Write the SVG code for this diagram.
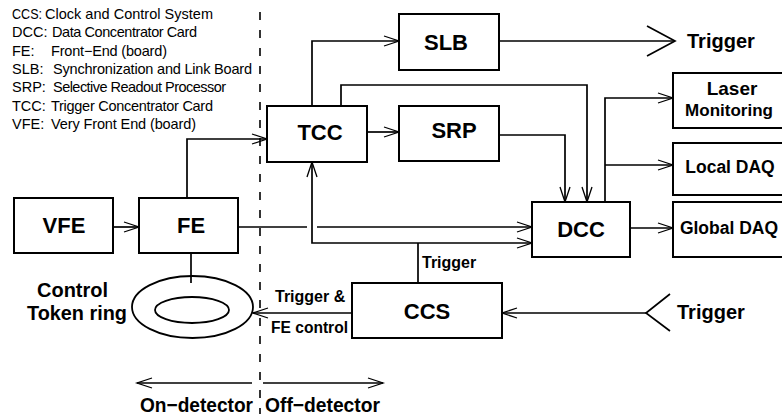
<svg xmlns="http://www.w3.org/2000/svg" width="782" height="418" viewBox="0 0 782 418">
<style>
text{font-family:"Liberation Sans",Arial,Helvetica,sans-serif;fill:#000}
.bx{fill:#fff;stroke:#000;stroke-width:2}
.ln{fill:none;stroke:#000;stroke-width:1.7}
.lg{font-size:14.5px}
.lb{font-weight:bold;font-size:22px;text-anchor:middle}
.sm{font-weight:bold;font-size:16px}
.md{font-weight:bold;font-size:20px}
.dq{font-weight:bold;font-size:17.5px;text-anchor:middle}
</style>
<defs>
<marker id="a" markerUnits="userSpaceOnUse" markerWidth="20" markerHeight="14" refX="15" refY="6" orient="auto-start-reverse" overflow="visible">
<path d="M0,1 L15,6 L0,11" fill="none" stroke="#000" stroke-width="1.3"/>
</marker>
</defs>
<rect width="782" height="418" fill="#fff"/>

<g id="legend">
<text class="lg" x="12" y="19"><tspan textLength="30" lengthAdjust="spacingAndGlyphs">CCS:</tspan><tspan x="45" textLength="168" lengthAdjust="spacing">Clock and Control System</tspan></text>
<text class="lg" x="12" y="37">DCC:<tspan x="52" textLength="145" lengthAdjust="spacing">Data Concentrator Card</tspan></text>
<text class="lg" x="12" y="56">FE:<tspan x="51" textLength="116" lengthAdjust="spacing">Front−End (board)</tspan></text>
<text class="lg" x="12" y="74">SLB:<tspan x="53" textLength="199" lengthAdjust="spacing">Synchronization and Link Board</tspan></text>
<text class="lg" x="12" y="92">SRP:<tspan x="53" textLength="173" lengthAdjust="spacing">Selective Readout Processor</tspan></text>
<text class="lg" x="12" y="111">TCC:<tspan x="51" textLength="162" lengthAdjust="spacing">Trigger Concentrator Card</tspan></text>
<text class="lg" x="12" y="129">VFE:<tspan x="51" textLength="145" lengthAdjust="spacing">Very Front End (board)</tspan></text>
</g>

<g id="divider">
<line x1="260" y1="12" x2="260" y2="414" stroke="#000" stroke-width="1.6" stroke-dasharray="8,10"/>
<text class="md" x="140" y="412" textLength="113" lengthAdjust="spacingAndGlyphs">On−detector</text>
<text class="md" x="265" y="412" textLength="115" lengthAdjust="spacingAndGlyphs">Off−detector</text>
</g>

<g id="connectors">
<path class="ln" d="M113,227 H139" marker-end="url(#a)"/>
<path class="ln" d="M187,198 V139 H267" marker-end="url(#a)"/>
<path class="ln" d="M238,227 H307"/>
<path class="ln" d="M317,227 H532" marker-end="url(#a)"/>
<path class="ln" d="M312,106 V41 H399" marker-end="url(#a)"/>
<path class="ln" d="M341,106 V85 H587 V202" marker-end="url(#a)"/>
<path class="ln" d="M367,132 H399" marker-end="url(#a)"/>
<path class="ln" d="M499,135 H565 V202" marker-end="url(#a)"/>
<path class="ln" d="M312,162 V243 H532" marker-start="url(#a)" marker-end="url(#a)"/>
<path class="ln" d="M418,283 V243"/>
<path class="ln" d="M605,202 V98 H673" marker-end="url(#a)"/>
<path class="ln" d="M605,165 H673" marker-end="url(#a)"/>
<path class="ln" d="M630,228 H673" marker-end="url(#a)"/>
<path class="ln" d="M352,313 H253" marker-end="url(#a)"/>
<path class="ln" d="M646,313 H502" marker-end="url(#a)"/>
<path class="ln" d="M670,294 L646,313 L670,331"/>
<path class="ln" d="M499,41 H675"/>
<path class="ln" d="M647,26 L675,41 L647,56"/>
<path class="ln" d="M191,253 V283"/>
<path class="ln" d="M252,383 H137" marker-end="url(#a)"/>
<path class="ln" d="M263,383 H383" marker-end="url(#a)"/>
</g>

<g id="vfe"><rect class="bx" x="14" y="198" width="99" height="55"/><text class="lb" x="64" y="233">VFE</text></g>
<g id="fe"><rect class="bx" x="139" y="198" width="99" height="55"/><text class="lb" x="191" y="233">FE</text></g>
<g id="tcc"><rect class="bx" x="267" y="106" width="100" height="56"/><text class="lb" x="320" y="140">TCC</text></g>
<g id="slb"><rect class="bx" x="399" y="14" width="100" height="56"/><text class="lb" x="446" y="50">SLB</text></g>
<g id="srp"><rect class="bx" x="399" y="106" width="100" height="55"/><text class="lb" x="454" y="138">SRP</text></g>
<g id="dcc"><rect class="bx" x="532" y="202" width="98" height="55"/><text class="lb" x="581" y="237">DCC</text></g>
<g id="ccs"><rect class="bx" x="352" y="283" width="150" height="55"/><text class="lb" x="427" y="319">CCS</text></g>
<g id="laser"><rect class="bx" x="673" y="73" width="120" height="55"/><text class="dq" x="732" y="95" style="font-size:19px">Laser</text><text class="dq" x="729" y="116" style="font-size:17px">Monitoring</text></g>
<g id="localdaq"><rect class="bx" x="673" y="143" width="120" height="52"/><text class="dq" x="730" y="173">Local DAQ</text></g>
<g id="globaldaq"><rect class="bx" x="673" y="202" width="120" height="55"/><text class="dq" x="729" y="234">Global DAQ</text></g>

<g id="ring">
<ellipse cx="192.5" cy="307" rx="60.5" ry="31" fill="none" stroke="#000" stroke-width="1.8"/>
<ellipse cx="192" cy="310" rx="37" ry="13" fill="none" stroke="#000" stroke-width="1.8"/>
<text class="md" x="37" y="297" textLength="71" lengthAdjust="spacingAndGlyphs">Control</text>
<text class="md" x="27" y="320" textLength="100" lengthAdjust="spacingAndGlyphs">Token ring</text>
</g>

<g id="labels">
<text class="md" x="687" y="48">Trigger</text>
<text class="md" x="677" y="319">Trigger</text>
<text class="sm" x="422" y="268">Trigger</text>
<text class="sm" x="275" y="302">Trigger &amp;</text>
<text class="sm" x="271" y="333" textLength="77" lengthAdjust="spacingAndGlyphs">FE control</text>
</g>
</svg>
